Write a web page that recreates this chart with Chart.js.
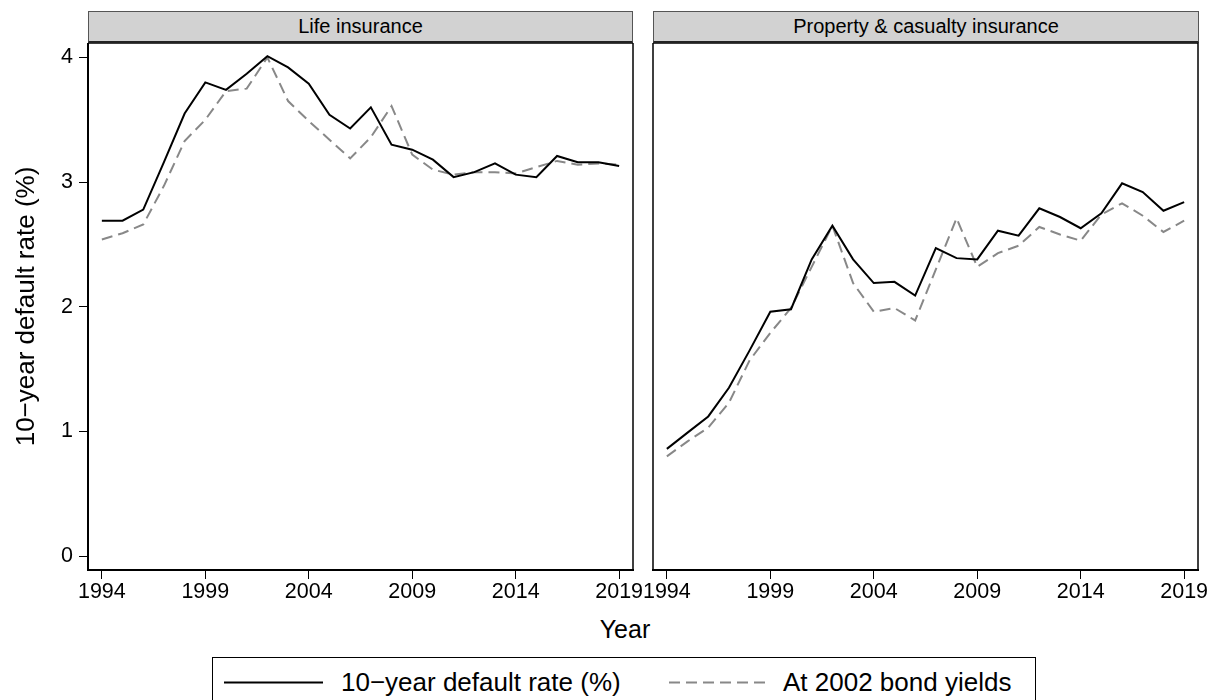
<!DOCTYPE html>
<html>
<head>
<meta charset="utf-8">
<script src="https://cdn.jsdelivr.net/npm/chart.js@4"></script>
<style>
  body { margin: 0; background: #fff; font-family: "Liberation Sans", Arial, sans-serif; }
  #wrap { position: relative; width: 1214px; height: 700px; overflow: hidden; background: #fff; }
  canvas { position: absolute; }
  .strip {
    position: absolute; top: 11px; height: 32px; box-sizing: border-box;
    background: #d2d2d2; border: 1px solid #555; border-bottom: 2px solid #222;
    font-size: 20px; line-height: 29px; text-align: center; color: #000;
  }
  #xtitle { position: absolute; left: 560px; width: 130px; top: 615px; text-align: center; font-size: 25px; }
  #legend {
    position: absolute; left: 212px; top: 657px; width: 824px; height: 70px;
    box-sizing: border-box; border: 1px solid #000; font-size: 26px;
  }
  #legend svg { position: absolute; top: 0; left: 0; }
  #legend span { position: absolute; top: 9px; white-space: nowrap; }
</style>
</head>
<body>
<div id="wrap">
  <div class="strip" style="left:88px;width:545px;">Life insurance</div>
  <div class="strip" style="left:653px;width:546px;">Property &amp; casualty insurance</div>
  <canvas id="lifeChart" width="645" height="567" style="left:0;top:43px;"></canvas>
  <canvas id="pcChart" width="574" height="567" style="left:640px;top:43px;"></canvas>
  <div id="xtitle">Year</div>
  <div id="legend">
    <svg width="824" height="60">
      <line x1="11" y1="24.5" x2="110" y2="24.5" stroke="#000" stroke-width="2"/>
      <line x1="456" y1="24.5" x2="556" y2="24.5" stroke="#888" stroke-width="2" stroke-dasharray="11,6"/>
    </svg>
    <span style="left:128px;">10−year default rate (%)</span>
    <span style="left:570px;">At 2002 bond yields</span>
  </div>
</div>
<script>
// data
const years = [1994, 1995, 1996, 1997, 1998, 1999, 2000, 2001, 2002, 2003, 2004, 2005, 2006,
               2007, 2008, 2009, 2010, 2011, 2012, 2013, 2014, 2015, 2016, 2017, 2018, 2019];

const lifeDefault = [2.69, 2.69, 2.78, 3.16, 3.55, 3.80, 3.74, 3.87, 4.01, 3.92, 3.79, 3.54, 3.43,
                     3.60, 3.30, 3.26, 3.18, 3.04, 3.08, 3.15, 3.06, 3.04, 3.21, 3.16, 3.16, 3.13];
const life2002 = [2.54, 2.59, 2.66, 2.97, 3.33, 3.50, 3.73, 3.75, 4.00, 3.65, 3.49, 3.34, 3.19,
                  3.36, 3.61, 3.22, 3.10, 3.06, 3.08, 3.08, 3.07, 3.12, 3.17, 3.14, 3.15, 3.14];

const pcDefault = [0.86, 0.99, 1.12, 1.35, 1.65, 1.96, 1.98, 2.38, 2.65, 2.38, 2.19, 2.20, 2.09,
                   2.47, 2.39, 2.38, 2.61, 2.57, 2.79, 2.72, 2.63, 2.75, 2.99, 2.92, 2.77, 2.84];
const pc2002 = [0.80, 0.92, 1.03, 1.23, 1.57, 1.79, 1.99, 2.32, 2.65, 2.19, 1.96, 1.99, 1.89,
                2.30, 2.71, 2.32, 2.43, 2.49, 2.64, 2.58, 2.53, 2.74, 2.83, 2.73, 2.60, 2.69];

const xTicks = [1994, 1999, 2004, 2009, 2014, 2019];
const yTicks = [0, 1, 2, 3, 4];

const FONT = "'Liberation Sans', Arial, sans-serif";

function pairs(vals) {
    return years.map((y, i) => ({ x: y, y: vals[i] }));
}

// box around the plot region
const frame = {
    id: 'frame',
    afterDraw(chart) {
        const a = chart.chartArea;
        const c = chart.ctx;
        c.save();
        c.strokeStyle = '#000';
        c.lineWidth = 1.5;
        c.strokeRect(a.left, a.top, a.right - a.left, a.bottom - a.top);
        c.restore();
    }
};

function makeChart(id, solid, dashed, showY, padding) {
    return new Chart(document.getElementById(id), {
        type: 'line',
        data: {
            datasets: [{
                data: pairs(solid),
                borderColor: '#000',
                borderWidth: 2,
                pointRadius: 0,
                fill: false
            }, {
                data: pairs(dashed),
                borderColor: '#888',
                borderWidth: 2,
                borderDash: [11, 6],
                pointRadius: 0,
                fill: false
            }]
        },
        options: {
            responsive: false,
            animation: false,
            layout: { padding: padding },
            plugins: { legend: { display: false }, tooltip: { enabled: false } },
            scales: {
                x: {
                    type: 'linear',
                    min: 1993.33,
                    max: 2019.67,
                    afterBuildTicks: s => { s.ticks = xTicks.map(v => ({ value: v })); },
                    afterFit: s => { s.height = 40; s.paddingLeft = 0; s.paddingRight = 0; },
                    ticks: {
                        color: '#000',
                        padding: 0,
                        maxRotation: 0,
                        font: { family: FONT, size: 21.5 },
                        callback: v => String(v)
                    },
                    grid: { drawOnChartArea: false, tickLength: 9, color: '#000', tickWidth: 1 },
                    border: { color: '#000', width: 2 }
                },
                y: {
                    display: showY,
                    min: -0.112,
                    max: 4.116,
                    afterBuildTicks: s => { s.ticks = yTicks.map(v => ({ value: v })); },
                    afterFit: s => {
                        if (showY) s.width = 88;
                        s.paddingTop = 0;
                        s.paddingBottom = 0;
                    },
                    ticks: {
                        color: '#000',
                        padding: 6,
                        font: { family: FONT, size: 21.5 }
                    },
                    grid: { drawOnChartArea: false, tickLength: 9, color: '#000', tickWidth: 1 },
                    border: { color: '#000', width: 2 },
                    title: {
                        display: true,
                        text: '10−year default rate (%)',
                        color: '#000',
                        padding: { top: 11, bottom: 0 },
                        font: { family: FONT, size: 26 }
                    }
                }
            }
        },
        plugins: [frame]
    });
}

makeChart('lifeChart', lifeDefault, life2002, true, { left: 0, right: 12, top: 0, bottom: 0 });
makeChart('pcChart', pcDefault, pc2002, false, { left: 13, right: 16, top: 0, bottom: 0 });
</script>
</body>
</html>
